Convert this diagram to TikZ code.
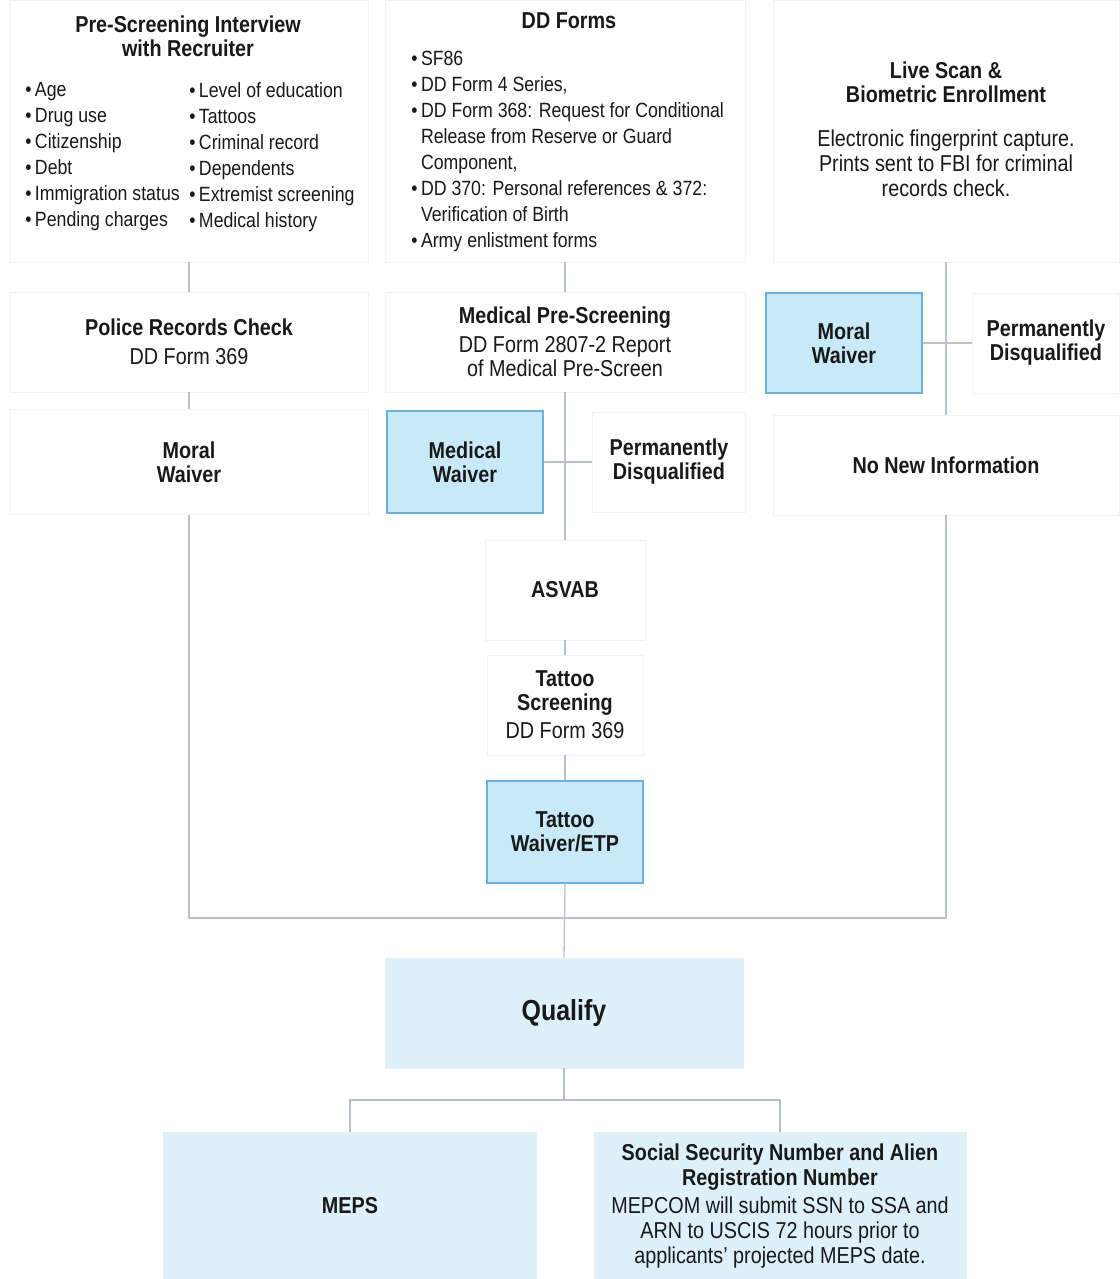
\documentclass[tikz,border=0pt]{standalone}
\usepackage{fontspec}
\setmainfont[FakeStretch=0.86]{Liberation Sans}

\newcommand{\mainfnt}{\fontsize{23}{24}\selectfont}
\newcommand{\listfnt}{\fontsize{20.6}{26}\selectfont}

\tikzset{every picture/.style={line width=0.75pt}}
\tikzset{
  pale/.style={draw={rgb, 255:red, 243; green, 243; blue, 243 }, fill=white, inner sep=0pt, align=center, font=\mainfnt, text={rgb, 255:red, 25; green, 25; blue, 25 }},
  waiver/.style={draw={rgb, 255:red, 108; green, 176; blue, 220 }, fill={rgb, 255:red, 200; green, 234; blue, 248 }, line width=1.5, inner sep=0pt, align=center, font=\mainfnt\bfseries, text={rgb, 255:red, 25; green, 25; blue, 25 }},
  qualbox/.style={draw={rgb, 255:red, 226; green, 240; blue, 248 }, fill={rgb, 255:red, 222; green, 240; blue, 250 }, inner sep=0pt, align=center, font=\mainfnt, text={rgb, 255:red, 25; green, 25; blue, 25 }},
  head/.style={inner sep=0pt, align=center, font=\mainfnt\bfseries, text={rgb, 255:red, 25; green, 25; blue, 25 }},
  plaintext/.style={inner sep=0pt, align=center, font=\mainfnt, text={rgb, 255:red, 25; green, 25; blue, 25 }},
  listtext/.style={inner sep=0pt, align=left, font=\listfnt, text={rgb, 255:red, 25; green, 25; blue, 25 }},
  link/.style={draw={rgb, 255:red, 186; green, 193; blue, 202 }, line width=1.3}
}

\begin{document}
\begin{tikzpicture}[x=1pt,y=1pt,yscale=-1,xscale=1]
\useasboundingbox (0,0) rectangle (1119,1279);

%Shape: Rectangle [id:prescreen]
\node [pale, minimum width=358, minimum height=262] (prescreen) at (189,131) {};
%Shape: Rectangle [id:ddforms]
\node [pale, minimum width=360, minimum height=262] (ddforms) at (565,131) {};
%Shape: Rectangle [id:livescan]
\node [pale, minimum width=346, minimum height=262] (livescan) at (946,131) {};

% Text Node
\node [head] (prescreentitle) at (188,36) {Pre-Screening Interview\\with Recruiter};
% Text Node
\node [listtext, anchor=west] (prescreenleft) at (25,157) {•\,Age\\•\,Drug use\\•\,Citizenship\\•\,Debt\\•\,Immigration status\\•\,Pending charges};
% Text Node
\node [listtext, anchor=west] (prescreenright) at (189,157) {•\,Level of education\\•\,Tattoos\\•\,Criminal record\\•\,Dependents\\•\,Extremist screening\\•\,Medical history};
% Text Node
\node [head] (ddtitle) at (569,21) {DD Forms};
% Text Node
\node [listtext, anchor=west] (ddlist) at (411,151) {•\,SF86\\•\,DD Form 4 Series,\\•\,DD Form 368: Request for Conditional\\\hphantom{•\,}Release from Reserve or Guard\\\hphantom{•\,}Component,\\•\,DD 370: Personal references \& 372:\\\hphantom{•\,}Verification of Birth\\•\,Army enlistment forms};
% Text Node
\node [head] (livetitle) at (946,82) {Live Scan \&\\Biometric Enrollment};
% Text Node
\node [plaintext, font=\fontsize{23}{25}\selectfont] (livetext) at (946,163) {Electronic fingerprint capture.\\Prints sent to FBI for criminal\\records check.};

%Shape: Rectangle [id:police]
\node [pale, minimum width=358, minimum height=100] (police) at (189,342) {\textbf{Police Records Check}\\[5pt]DD Form 369};
%Shape: Rectangle [id:medpre]
\node [pale, minimum width=360, minimum height=100] (medpre) at (565,342) {\textbf{Medical Pre-Screening}\\[5pt]DD Form 2807-2 Report\\of Medical Pre-Screen};
%Shape: Rectangle [id:moralright]
\node [waiver, minimum width=156, minimum height=100] (moralright) at (844,343) {Moral\\Waiver};
%Shape: Rectangle [id:permright]
\node [pale, minimum width=147, minimum height=100, font=\mainfnt\bfseries] (permright) at (1046,343) {Permanently\\Disqualified};

%Shape: Rectangle [id:moralleft]
\node [pale, minimum width=358, minimum height=105, font=\mainfnt\bfseries] (moralleft) at (189,462) {Moral\\Waiver};
%Shape: Rectangle [id:medwaiver]
\node [waiver, minimum width=156, minimum height=102] (medwaiver) at (465,462) {Medical\\Waiver};
%Shape: Rectangle [id:permleft]
\node [pale, minimum width=153, minimum height=100, font=\mainfnt\bfseries] (permleft) at (669,462) {Permanently\\Disqualified};
%Shape: Rectangle [id:nonew]
\node [pale, minimum width=346, minimum height=100, font=\mainfnt\bfseries] (nonew) at (946,465) {No New Information};

%Shape: Rectangle [id:asvab]
\node [pale, minimum width=160, minimum height=100, font=\mainfnt\bfseries] (asvab) at (565,590) {ASVAB};
%Shape: Rectangle [id:tatscreen]
\node [pale, minimum width=156, minimum height=100] (tatscreen) at (565,705) {\textbf{Tattoo}\\\textbf{Screening}\\[4pt]DD Form 369};
%Shape: Rectangle [id:tatwaiver]
\node [waiver, minimum width=156, minimum height=102] (tatwaiver) at (565,832) {Tattoo\\Waiver/ETP};

%Shape: Rectangle [id:qualify]
\node [qualbox, minimum width=358, minimum height=110, font=\fontsize{29}{30}\selectfont\bfseries] (qualify) at (564,1013) {Qualify};
%Shape: Rectangle [id:meps]
\node [qualbox, minimum width=373, minimum height=147, font=\mainfnt\bfseries] (meps) at (350,1206) {MEPS};
%Shape: Rectangle [id:ssn]
\node [qualbox, minimum width=372, minimum height=147, font=\fontsize{23}{25}\selectfont] (ssn) at (780,1206) {\textbf{Social Security Number and Alien}\\\textbf{Registration Number}\\[3pt]MEPCOM will submit SSN to SSA and\\ARN to USCIS 72 hours prior to\\applicants’ projected MEPS date.};

\coordinate (join) at (565,918);
\coordinate (split) at (564,1100);

%Straight Lines
\draw [link] (prescreen.south) -- (police.north);
\draw [link] (police.south) -- (moralleft.north);
\draw [link] (ddforms.south) -- (medpre.north);
\draw [link] (medpre.south) -- (asvab.north);
\draw [link] (medwaiver.east) -- (permleft.west);
\draw [link] (livescan.south) -- (nonew.north);
\draw [link] (moralright.east) -- (permright.west);
\draw [link] (asvab.south) -- (tatscreen.north);
\draw [link] (tatscreen.south) -- (tatwaiver.north);
\draw [link] (tatwaiver.south) -- (qualify.north);
\draw [link] (moralleft.south) |- (join) -| (nonew.south);
\draw [link] (qualify.south) -- (split);
\draw [link] (meps.north) |- (split) -| (ssn.north);

\end{tikzpicture}
\end{document}
